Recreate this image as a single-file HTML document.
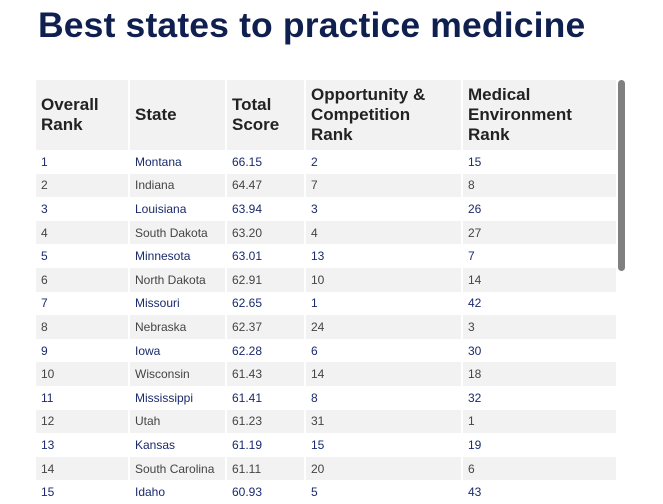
<!DOCTYPE html>
<html><head><style>
body{margin:0;width:663px;height:504px;overflow:hidden;background:#fff;font-family:"Liberation Sans",sans-serif;position:relative}
h1{position:absolute;left:38px;top:5px;margin:0;font-size:35.5px;font-weight:900;color:#0f1f4f;letter-spacing:0.15px;white-space:nowrap}
table{position:absolute;left:36px;top:80px;border-collapse:collapse;table-layout:fixed;width:580px}
th,td{border-left:2px solid #fff;padding:0 0 0 5px;text-align:left}
th:first-child,td:first-child{border-left:none}
th{background:#f2f2f2;height:70px;font-size:17px;line-height:20px;font-weight:bold;color:#222;vertical-align:middle}
tr{height:23.6px}
td{height:23.6px;box-sizing:border-box;font-size:12px;line-height:14px;color:#1a2a6c;padding-top:0;padding-bottom:0}
tr.g td{background:#f2f2f2;color:#444}
.sb{position:absolute;left:618px;top:80px;width:7px;height:191px;background:#808080;border-radius:4px}
</style></head><body>
<h1>Best states to practice medicine</h1>
<table>
<colgroup><col style="width:93px"><col style="width:97px"><col style="width:79px"><col style="width:157px"><col style="width:154px"></colgroup>
<tr><th>Overall<br>Rank</th><th>State</th><th>Total<br>Score</th><th>Opportunity &amp;<br>Competition<br>Rank</th><th>Medical<br>Environment<br>Rank</th></tr>
<tr><td>1</td><td>Montana</td><td>66.15</td><td>2</td><td>15</td></tr>
<tr class="g"><td>2</td><td>Indiana</td><td>64.47</td><td>7</td><td>8</td></tr>
<tr><td>3</td><td>Louisiana</td><td>63.94</td><td>3</td><td>26</td></tr>
<tr class="g"><td>4</td><td>South Dakota</td><td>63.20</td><td>4</td><td>27</td></tr>
<tr><td>5</td><td>Minnesota</td><td>63.01</td><td>13</td><td>7</td></tr>
<tr class="g"><td>6</td><td>North Dakota</td><td>62.91</td><td>10</td><td>14</td></tr>
<tr><td>7</td><td>Missouri</td><td>62.65</td><td>1</td><td>42</td></tr>
<tr class="g"><td>8</td><td>Nebraska</td><td>62.37</td><td>24</td><td>3</td></tr>
<tr><td>9</td><td>Iowa</td><td>62.28</td><td>6</td><td>30</td></tr>
<tr class="g"><td>10</td><td>Wisconsin</td><td>61.43</td><td>14</td><td>18</td></tr>
<tr><td>11</td><td>Mississippi</td><td>61.41</td><td>8</td><td>32</td></tr>
<tr class="g"><td>12</td><td>Utah</td><td>61.23</td><td>31</td><td>1</td></tr>
<tr><td>13</td><td>Kansas</td><td>61.19</td><td>15</td><td>19</td></tr>
<tr class="g"><td>14</td><td>South Carolina</td><td>61.11</td><td>20</td><td>6</td></tr>
<tr><td>15</td><td>Idaho</td><td>60.93</td><td>5</td><td>43</td></tr>
</table>
<div class="sb"></div>
</body></html>
